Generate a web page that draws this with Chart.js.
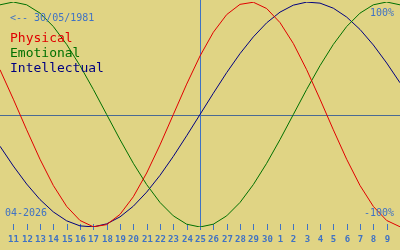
<html>
    <head>
        <style>
            body { margin: 0; background: #e0d484; }
            canvas { display: block; }
        </style>
        <script src="https://cdn.jsdelivr.net/npm/chart.js"></script>
    </head>
    <body>
        <canvas id="chart" width="400" height="250"></canvas>
        <script>
            // days shown, 10/04 to 10/05 (2026), centre day is 25
            var days = ['10','11','12','13','14','15','16','17','18','19','20',
                        '21','22','23','24','25','26','27','28','29','30',
                        '1','2','3','4','5','6','7','8','9','10'];
            var physical = [39.8,13.6,-13.6,-39.8,-63.1,-81.7,-94.2,-99.8,-97.9,-88.8,-73.1,
                            -52.0,-27.0,0,27.0,52.0,73.1,88.8,97.9,99.8,94.2,
                            81.7,63.1,39.8,13.6,-13.6,-39.8,-63.1,-81.7,-94.2,-99.8];
            var emotional = [97.5,100,97.5,90.1,78.2,62.3,43.4,22.3,0,-22.3,-43.4,
                             -62.3,-78.2,-90.1,-97.5,-100,-97.5,-90.1,-78.2,-62.3,-43.4,
                             -22.3,0,22.3,43.4,62.3,78.2,90.1,97.5,100,97.5];
            var intellectual = [-28.2,-45.8,-61.8,-75.6,-86.6,-94.5,-99.0,-99.9,-97.2,-91.0,-81.5,
                                -69.0,-54.1,-37.2,-18.9,0,18.9,37.2,54.1,69.0,81.5,
                                91.0,97.2,99.9,99.0,94.5,86.6,75.6,61.8,45.8,28.2];
            var seriesNames = ['Physical', 'Emotional', 'Intellectual'];
            var seriesColors = ['#e00000', '#007000', '#000080'];
            var todayIndex = 15;
            var birthText = '<-- 30/05/1981';
            var monthText = '04-2026';

            var blue = '#3f72c4';
            var mono = '"DejaVu Sans Mono", monospace';

            var bioPlugin = {
                id: 'bio',
                beforeDraw: function(chart) {
                    var c = chart.ctx;
                    c.save();
                    c.fillStyle = '#e0d484';
                    c.fillRect(0, 0, chart.width, chart.height);
                    c.restore();
                },
                beforeDatasetsDraw: function(chart) {
                    var c = chart.ctx;
                    var x = chart.scales.x, y = chart.scales.y;
                    c.save();
                    // zero line
                    var y0 = Math.round(y.getPixelForValue(0)) + 0.5;
                    c.strokeStyle = '#4a6a94';
                    c.lineWidth = 1;
                    c.beginPath();
                    c.moveTo(0, y0);
                    c.lineTo(chart.width, y0);
                    c.stroke();
                    // today line
                    var xt = Math.round(x.getPixelForValue(todayIndex)) + 0.5;
                    c.strokeStyle = blue;
                    c.beginPath();
                    c.moveTo(xt, 0);
                    c.lineTo(xt, 230);
                    c.stroke();
                    // day ticks and labels
                    c.fillStyle = blue;
                    c.font = 'bold 9px ' + mono;
                    c.textAlign = 'center';
                    c.textBaseline = 'alphabetic';
                    for (var i = 1; i < days.length - 1; i++) {
                        var px = Math.round(x.getPixelForValue(i)) + 0.5;
                        c.beginPath();
                        c.moveTo(px, 224);
                        c.lineTo(px, 230);
                        c.stroke();
                        c.fillText(days[i], px, 242);
                    }
                    c.restore();
                },
                afterDatasetsDraw: function(chart) {
                    var c = chart.ctx;
                    c.save();
                    c.textBaseline = 'alphabetic';
                    c.fillStyle = blue;
                    c.font = '10px ' + mono;
                    c.textAlign = 'left';
                    c.fillText(birthText, 10, 21);
                    c.fillText(monthText, 5, 216);
                    c.textAlign = 'right';
                    c.fillText('100%', 394, 16);
                    c.fillText('-100%', 394, 216);
                    c.textAlign = 'left';
                    c.font = '13px ' + mono;
                    for (var i = 0; i < seriesNames.length; i++) {
                        c.fillStyle = seriesColors[i];
                        c.fillText(seriesNames[i], 10, 42 + i * 15);
                    }
                    c.restore();
                }
            };

            var series = [physical, emotional, intellectual];
            var datasets = [];
            for (var i = 0; i < series.length; i++) {
                datasets.push({
                    label: seriesNames[i],
                    data: series[i],
                    borderColor: seriesColors[i],
                    borderWidth: 1,
                    pointRadius: 0,
                    tension: 0,
                    fill: false
                });
            }

            var ctx = document.getElementById('chart').getContext('2d');
            var myChart = new Chart(ctx, {
                type: 'line',
                data: { labels: days, datasets: datasets },
                options: {
                    responsive: false,
                    animation: false,
                    devicePixelRatio: 1,
                    layout: { padding: { top: 2, bottom: 23, left: 0, right: 0 } },
                    scales: {
                        x: { display: false },
                        y: { display: false, min: -100, max: 100 }
                    },
                    plugins: {
                        legend: { display: false },
                        tooltip: { enabled: false }
                    }
                },
                plugins: [bioPlugin]
            });
        </script>
    </body>
</html>
